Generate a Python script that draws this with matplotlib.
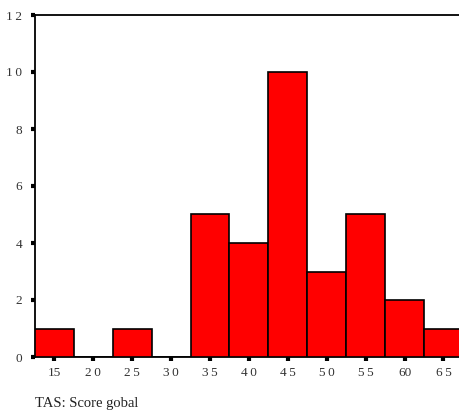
import matplotlib
matplotlib.use('Agg')
import matplotlib.pyplot as plt

# TAS global score distribution
centers = [15, 20, 25, 30, 35, 40, 45, 50, 55, 60, 65]
counts = [1, 0, 1, 0, 5, 4, 10, 3, 5, 2, 1]
xlabels = ['15', '2\u20090', '2\u20095', '3\u20090', '3\u20095', '4\u20090',
           '4\u20095', '5\u20090', '5\u20095', '60', '6\u20095']
yticks = [0, 2, 4, 6, 8, 10, 12]
ylabels = ['0', '2', '4', '6', '8', '1\u20090', '1\u20092']

plt.rcParams['font.family'] = ['Liberation Serif', 'DejaVu Serif']

W, H = 459, 415
fig = plt.figure(figsize=(W / 100, H / 100), dpi=100)
fig.patch.set_facecolor('white')
ax = fig.add_axes([35 / W, 58 / H, (W - 35) / W, 342 / H])

ax.bar(centers, counts, width=5, color='#ff0000', edgecolor='black',
       linewidth=1.2, zorder=3)

ax.set_xlim(12.5, 67.0)
ax.set_ylim(0, 12)
ax.set_xticks(centers)
ax.set_xticklabels(xlabels)
ax.set_yticks(yticks)
ax.set_yticklabels(ylabels)

ax.spines['right'].set_visible(False)
for s in ['left', 'bottom', 'top']:
    ax.spines[s].set_linewidth(1.3)

ax.tick_params(axis='y', direction='out', length=3, width=3, pad=6,
               labelsize=9.5, labelcolor='#333333')
ax.tick_params(axis='x', direction='out', length=3, width=3, pad=4,
               labelsize=9.5, labelcolor='#333333')

fig.text(35 / W, 1 - 403 / H, 'TAS: Score gobal', ha='left', va='center',
         fontsize=10.5, color='#222222')

fig.savefig('out.png', dpi=100, facecolor='white')
